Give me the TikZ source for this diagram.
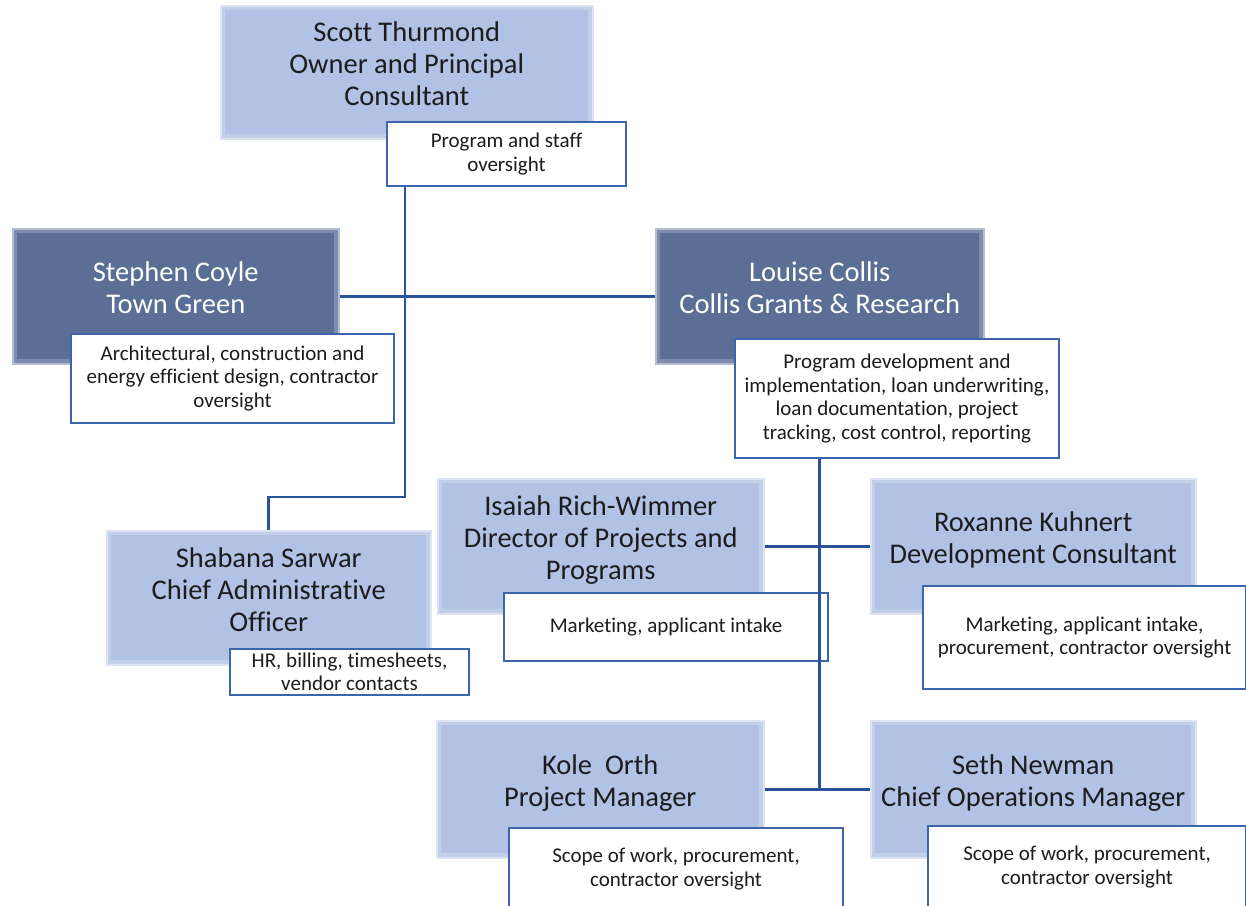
\documentclass[tikz,border=0pt]{standalone}
\usepackage{fontspec}
\setmainfont{Carlito}[Ligatures=NoCommon]
\usetikzlibrary{positioning, calc}
\definecolor{staffBlue}{RGB}{178,194,228}
\definecolor{leadBlue}{RGB}{90,110,150}
\definecolor{lineBlue}{RGB}{42,82,155}
\definecolor{dutyBlue}{RGB}{62,100,172}
\definecolor{darkText}{RGB}{28,28,30}
\tikzset{
    staffbox/.style={
        rectangle,
        draw=staffBlue!45!white,
        line width=1.5pt,
        fill=staffBlue,
        text=darkText,
        align=center,
        anchor=north west,
        text depth=17pt,
        font=\fontsize{28.5}{32}\selectfont,
        path picture={\draw[white, opacity=0.22, line width=9pt] (path picture bounding box.south west) rectangle (path picture bounding box.north east);}
    },
    leadbox/.style={
        staffbox,
        draw=leadBlue!45!white,
        fill=leadBlue,
        text=white
    },
    dutybox/.style={
        rectangle,
        draw=dutyBlue,
        line width=2pt,
        fill=white,
        text=darkText,
        align=center,
        anchor=north west,
        font=\fontsize{21}{23.5}\selectfont
    },
    orgline/.style={draw=lineBlue, line width=2.6pt}
}
\begin{document}
\begin{tikzpicture}[x=1pt, y=-1pt]
    \useasboundingbox (0,0) rectangle (1246,905);
    % people
    \node[staffbox, minimum width=372, minimum height=133] (scott) at (220,5) {Scott Thurmond\\Owner and Principal\\Consultant};
    \node[leadbox, minimum width=326, minimum height=135] (stephen) at (12,228) {Stephen Coyle\\Town Green};
    \node[leadbox, minimum width=328, minimum height=135] (louise) at (655,228) {Louise Collis\\Collis Grants \& Research};
    \node[staffbox, minimum width=324, minimum height=134] (shabana) at (106,530) {Shabana Sarwar\\Chief Administrative\\Officer};
    \node[staffbox, minimum width=326, minimum height=135] (isaiah) at (437,478) {Isaiah Rich-Wimmer\\Director of Projects and\\Programs};
    \node[staffbox, minimum width=325, minimum height=135] (roxanne) at (870,478) {Roxanne Kuhnert\\Development Consultant};
    \node[staffbox, minimum width=327, minimum height=137] (kole) at (436,720) {Kole\ \ Orth\\Project Manager};
    \node[staffbox, minimum width=325, minimum height=137] (seth) at (870,720) {Seth Newman\\Chief Operations Manager};
    % duties
    \node[dutybox, minimum width=239, minimum height=64] (scottduty) at (386,121) {Program and staff\\oversight};
    \node[dutybox, minimum width=323, minimum height=89] (stephenduty) at (70,333) {Architectural, construction and\\energy efficient design, contractor\\oversight};
    \node[dutybox, minimum width=324, minimum height=119] (louiseduty) at (734,338) {Program development and\\implementation, loan underwriting,\\loan documentation, project\\tracking, cost control, reporting};
    \node[dutybox, minimum width=239, minimum height=46] (shabanaduty) at (229,648) {HR, billing, timesheets,\\vendor contacts};
    \node[dutybox, minimum width=324, minimum height=68] (isaiahduty) at (503,592) {Marketing, applicant intake};
    \node[dutybox, minimum width=323, minimum height=103] (roxanneduty) at (922,585) {Marketing, applicant intake,\\procurement, contractor oversight};
    \node[dutybox, minimum width=334, minimum height=82] (koleduty) at (508,827) {Scope of work, procurement,\\contractor oversight};
    \node[dutybox, minimum width=318, minimum height=82] (sethduty) at (927,825) {Scope of work, procurement,\\contractor oversight};
    % connectors
    \coordinate (scottdrop) at (405,497);
    \draw[orgline] (scottdrop |- scottduty.south) -- (scottdrop) -| (shabana.north);
    \draw[orgline] (stephen.east) -- (louise.west);
    \draw[orgline] (louise.south |- louiseduty.south) |- (kole.east);
    \draw[orgline] (kole.east) -- (seth.west);
    \draw[orgline] (isaiah.east) -- (roxanne.west);
\end{tikzpicture}
\end{document}
